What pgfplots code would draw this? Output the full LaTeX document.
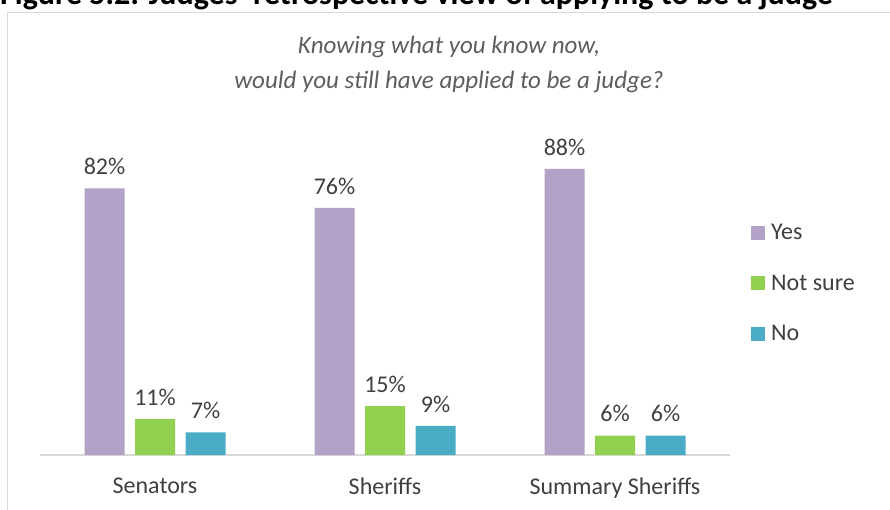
\documentclass[border=0pt]{standalone}
\usepackage{pgfplots}
\pgfplotsset{compat=1.18}
\usepackage{fontspec}
\setmainfont{Carlito}
\definecolor{cyes}{HTML}{B3A2C7}
\definecolor{cnot}{HTML}{92D050}
\definecolor{cno}{HTML}{4BACC6}
\definecolor{txt}{HTML}{404040}
\definecolor{frame}{HTML}{D9D9D9}
\begin{document}
\begin{tikzpicture}
\useasboundingbox (0pt,-510pt) rectangle (890pt,0pt);
\begin{scope}
\clip (0pt,-510pt) rectangle (890pt,0pt);
\node[anchor=base west, inner sep=0, font=\bfseries\fontsize{32}{38}\selectfont] at (0pt,-5pt) {Figure 5.2: Judges' retrospective view of applying to be a judge};
\draw[draw=frame, line width=1.5pt] (7.5pt,-530pt) -- (7.5pt,-12.5pt) -- (910pt,-12.5pt);
\end{scope}
\node[font=\itshape\fontsize{25}{30}\selectfont, text=txt!85] at (449pt,-47pt) {Knowing what you know now,};
\node[font=\itshape\fontsize{25}{30}\selectfont, text=txt!85] at (449pt,-82pt) {would you still have applied to be a judge?};
\begin{axis}[
  at={(40pt,-455pt)}, anchor=south west,
  scale only axis, width=690pt, height=300pt,
  xmin=-0.5, xmax=2.5, ymin=0, ymax=92.3,
  axis x line=bottom, axis y line=none,
  x axis line style={draw=frame, line width=1.5pt, -},
  ybar=10.5pt, bar width=40pt,
  xtick={0,1,2}, xticklabels={Senators,Sheriffs,Summary Sheriffs},
  major tick length=0pt,
  xticklabel style={font=\fontsize{24}{29}\selectfont, text=txt, yshift=-19pt},
  clip=false,
  /pgf/number format/assume math mode=true,
  nodes near coords={\pgfmathprintnumber{\pgfplotspointmeta}\%},
  every node near coord/.append style={font=\fontsize{24}{29}\selectfont, text=txt, anchor=south, yshift=10pt},
  legend image code/.code={\fill[#1] (0pt,-7pt) rectangle (14pt,7pt);},
  legend style={at={(1.026,0.783)}, anchor=north west, draw=none, fill=none,
    font=\fontsize{24}{29}\selectfont, text=txt, row sep=29.5pt,
    /tikz/every odd column/.append style={column sep=4pt}},
  legend cell align=left,
]
\addplot[fill=cyes, draw=none] coordinates {(0,82) (1,76) (2,88)};
\addplot[fill=cnot, draw=none] coordinates {(0,11) (1,15) (2,6)};
\addplot[fill=cno, draw=none] coordinates {(0,7) (1,9) (2,6)};
\legend{Yes,Not sure,No}
\end{axis}
\end{tikzpicture}
\end{document}
